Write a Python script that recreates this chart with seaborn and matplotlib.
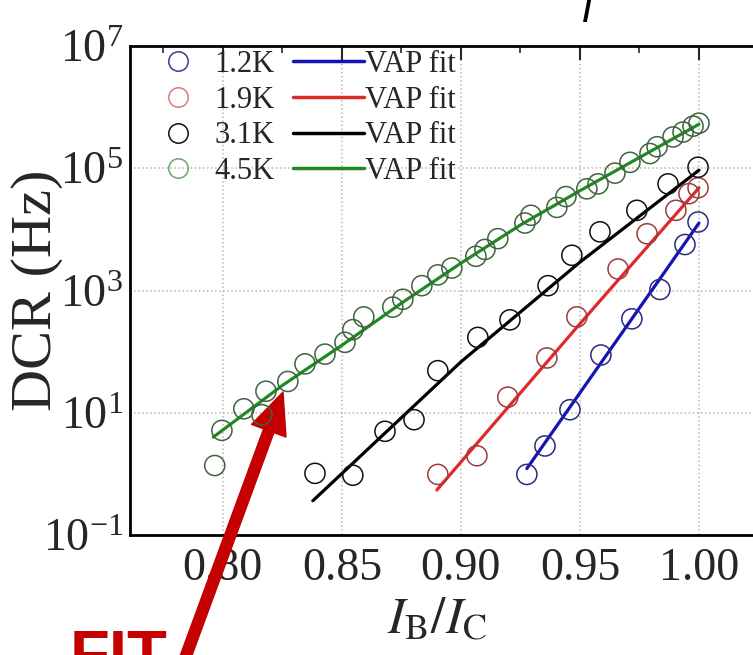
import numpy as np
import pandas as pd
import matplotlib
matplotlib.use("Agg")
import matplotlib.pyplot as plt
import matplotlib.ticker as mticker
from matplotlib.lines import Line2D
import seaborn as sns

# ---------------- data ----------------
temps = ["1.2K", "1.9K", "3.1K", "4.5K"]

x_12 = [0.9277, 0.9353, 0.9458, 0.9588, 0.9718, 0.9836, 0.9941, 0.9996]
y_12 = [0.98, 2.86, 11.2, 88, 344, 1040, 5650, 13200]

x_19 = [0.8903, 0.9067, 0.9197, 0.9361, 0.9487, 0.9660, 0.9782, 0.9903, 0.9958, 0.9996]
y_19 = [0.98, 1.98, 18, 78.7, 370, 2250, 8470, 20500, 38400, 47900]

x_31 = [0.8387, 0.8546, 0.8681, 0.8803, 0.8903, 0.9071, 0.9206, 0.9366, 0.9466,
        0.9584, 0.9739, 0.9870, 0.9996]
y_31 = [1.02, 0.95, 4.97, 7.7, 48.8, 171, 331, 1200, 3770, 9120, 20500, 55500, 104000]

x_45 = [0.7966, 0.7996, 0.8088, 0.8164, 0.8181, 0.8273, 0.8345, 0.8429, 0.8513,
        0.8546, 0.8592, 0.8714, 0.8756, 0.8836, 0.8903, 0.8962, 0.9063, 0.9101,
        0.9155, 0.9269, 0.9294, 0.9403, 0.9441, 0.9529, 0.9576, 0.9647, 0.9710,
        0.9794, 0.9824, 0.9891, 0.9933, 0.9975, 1.0000]
y_45 = [1.37, 5.15, 11.6, 9.3, 22.5, 32.5, 63, 91, 142, 229, 370, 535, 718, 1200,
        1800, 2330, 3630, 4700, 7050, 12700, 17000, 22900, 34400, 46100, 55500,
        83200, 125000, 174000, 225000, 325000, 391000, 488000, 545000]

# VAP fit curves
fx_12 = [0.9277, 1.0000]
fy_12 = [1.22, 12700]
fx_19 = [0.8899, 0.9500, 1.0000]
fy_19 = [0.545, 286, 47900]
fx_31 = [0.8378, 0.9000, 0.9500, 1.0000]
fy_31 = [0.363, 68, 2910, 93000]
fx_45 = [0.7960, 0.8250, 0.8500, 0.8750, 0.9000, 0.9250, 0.9500, 0.9750, 1.0000]
fy_45 = [4.0, 28, 127, 620, 2800, 11800, 42900, 150000, 525000]

fit_label = "VAP fit"
x_ticks = [0.80, 0.85, 0.90, 0.95, 1.00]
x_tick_labels = ["0.80", "0.85", "0.90", "0.95", "1.00"]
y_ticks = [1e-1, 1e1, 1e3, 1e5, 1e7]

# ---------------- style ----------------
sns.set_style("white")
plt.rcParams["font.family"] = ["Liberation Serif", "DejaVu Serif"]
plt.rcParams["mathtext.fontset"] = "stix"

line_colors = ["#1414b4", "#e02a2a", "#000000", "#1f8a1f"]
mark_colors = ["#2a2a80", "#9a3c3c", "#111111", "#3f633f"]
legend_mark_colors = ["#3a3a9a", "#e07a7a", "#111111", "#6aa56a"]

W, H = 753, 655
fig = plt.figure(figsize=(W / 100, H / 100), dpi=100)
ax_left, ax_right = 130 / W, 1.0
ax_bottom, ax_top = 1 - 535 / H, 1 - 46 / H
ax = fig.add_axes([ax_left, ax_bottom, ax_right - ax_left, ax_top - ax_bottom])

series = [(x_12, y_12, fx_12, fy_12), (x_19, y_19, fx_19, fy_19),
          (x_31, y_31, fx_31, fy_31), (x_45, y_45, fx_45, fy_45)]

for i, (xs, ys, fxs, fys) in enumerate(series):
    sns.lineplot(x=fxs, y=fys, ax=ax, color=line_colors[i], linewidth=2.3,
                 sort=False, estimator=None, zorder=3, legend=False)
    sns.scatterplot(x=xs, y=ys, ax=ax, marker="o", s=210, facecolors="none",
                    edgecolor=mark_colors[i], linewidth=1.1, zorder=4, legend=False)

ax.set_yscale("log")
ax.set_xlim(0.761, 0.80 + (W - 223) / 2380)
ax.set_ylim(1e-1, 1e7)

ax.xaxis.set_major_locator(mticker.FixedLocator(x_ticks))
ax.xaxis.set_major_formatter(mticker.FixedFormatter(x_tick_labels))
ax.xaxis.set_minor_locator(mticker.MultipleLocator(0.025))
ax.yaxis.set_major_locator(mticker.FixedLocator(y_ticks))
ax.yaxis.set_major_formatter(mticker.LogFormatterSciNotation())
ax.yaxis.set_minor_locator(mticker.FixedLocator([1e0, 1e2, 1e4, 1e6]))
ax.yaxis.set_minor_formatter(mticker.NullFormatter())

ax.tick_params(axis="both", which="major", direction="in", length=10, width=1.5,
               labelsize=33, top=True, pad=9)
ax.tick_params(axis="y", which="major", pad=5)
ax.tick_params(axis="both", which="minor", direction="in", length=5, width=1.2, top=True)
ax.tick_params(axis="y", which="both", right=False)

ax.grid(True, which="major", color="#b8b8b8", linestyle=":", linewidth=1.1, zorder=0)
for side in ["left", "bottom", "top"]:
    ax.spines[side].set_linewidth(2.0)
    ax.spines[side].set_color("black")
ax.spines["right"].set_visible(False)

ax.set_xlabel(r"$I_{\mathrm{B}}/I_{\mathrm{C}}$", fontsize=37)
ax.xaxis.label.set_va("center")
ax.xaxis.set_label_coords((437 - 130) / (W - 130), -(621 - 535) / (535 - 46))
ax.set_ylabel("DCR (Hz)", fontsize=42)
ax.yaxis.label.set_va("center")
ax.yaxis.set_label_coords((37 - 130) / (W - 130), 0.5)

# legend: markers column + fit-line column
handles = [Line2D([], [], linestyle="none", marker="o", markersize=14,
                  markerfacecolor="none", markeredgecolor=c, markeredgewidth=1.1)
           for c in legend_mark_colors]
handles += [Line2D([], [], color=c, linewidth=2.5) for c in line_colors]
labels = temps + [fit_label] * 4
ax.legend(handles, labels, ncol=2, loc="upper left",
          bbox_to_anchor=(143 / W, 1 - 50 / H), bbox_transform=fig.transFigure,
          frameon=False, fontsize=22, handlelength=2.3, handletextpad=0.05,
          columnspacing=0.6, labelspacing=0.22, borderaxespad=0.0, borderpad=0.0)

# red annotation arrow and text
ax.annotate("", xy=(283, H - 392), xycoords="figure pixels",
            xytext=(180, H - 672), textcoords="figure pixels",
            arrowprops=dict(arrowstyle="simple,head_length=1.35,head_width=1.2,tail_width=0.36",
                            mutation_scale=22, color="#c40000", shrinkA=0, shrinkB=0),
            annotation_clip=False)
fig.text(70 / W, 1 - 676 / H, "FIT", color="#c40000", fontsize=47, fontweight="bold",
         family=["Liberation Sans", "DejaVu Sans"], ha="left", va="baseline")
fig.text(582 / W, 1 - 22 / H, "I", color="black", fontsize=28, style="italic",
         family=["DejaVu Sans"], ha="left", va="baseline")

fig.savefig("out.png", dpi=100)
